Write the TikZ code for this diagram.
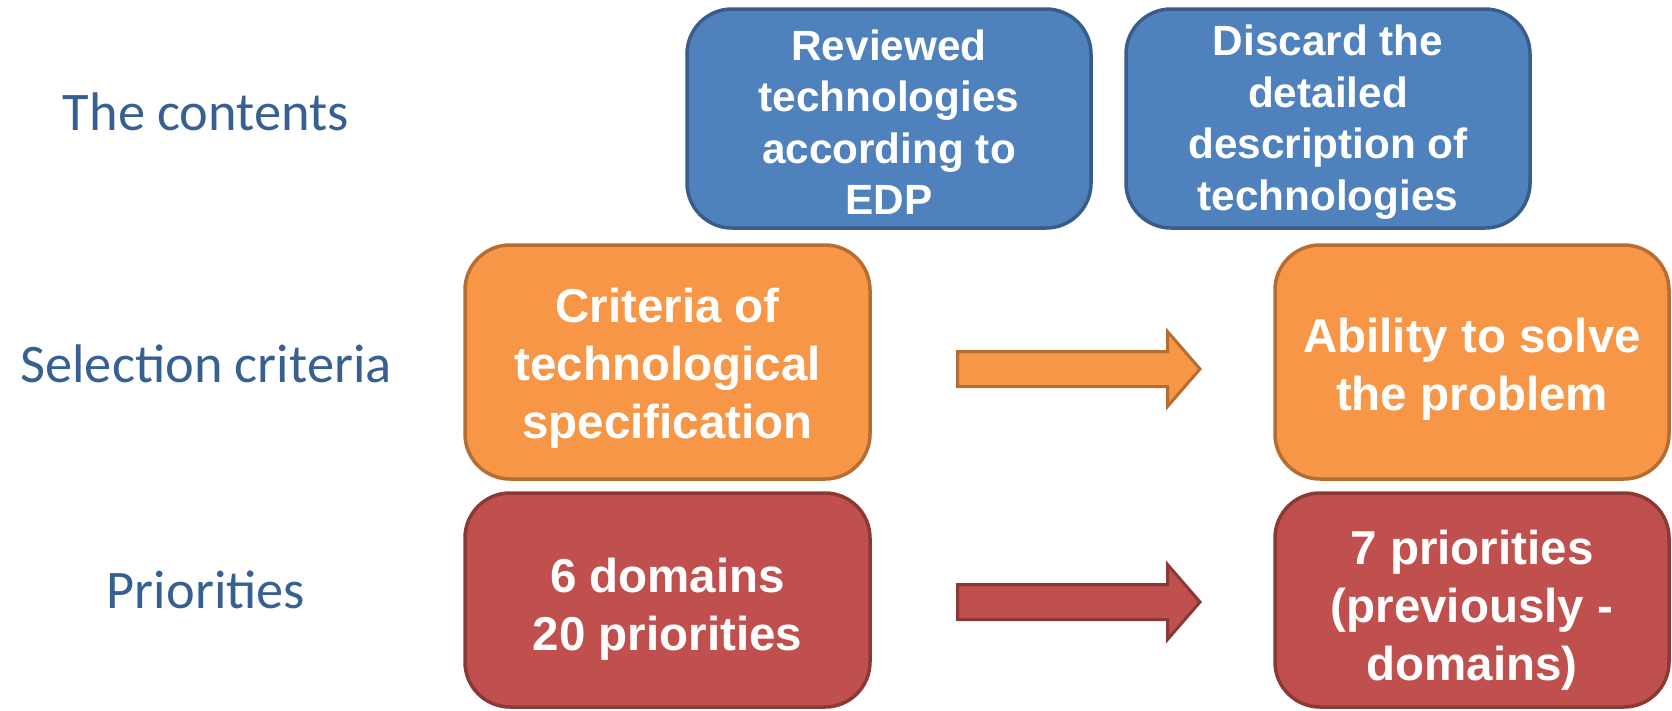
\documentclass[tikz,border=0pt]{standalone}
\usepackage{fontspec}
\setmainfont{Liberation Sans}
\newfontfamily\rowfont{Carlito}
\definecolor{bluefill}{HTML}{4F81BD}
\definecolor{blueline}{HTML}{385D8A}
\definecolor{orangefill}{HTML}{F79646}
\definecolor{orangeline}{HTML}{B66D31}
\definecolor{redfill}{HTML}{C0504D}
\definecolor{redline}{HTML}{8C3836}
\definecolor{rowblue}{HTML}{376092}
\newcommand\dropto[1]{\rule{0pt}{#1}}
\tikzset{
  box/.style={draw, line width=3.5pt, rounded corners=45pt, align=center,
    text=white, inner sep=0pt, font=\bfseries\fontsize{47.5}{58}\selectfont},
  bluebox/.style={box, fill=bluefill, draw=blueline, minimum width=404pt,
    minimum height=219pt, font=\bfseries\fontsize{42.3}{51.6}\selectfont},
  orangebox/.style={box, fill=orangefill, draw=orangeline, minimum height=234pt},
  redbox/.style={box, fill=redfill, draw=redline, minimum height=214pt},
  rowlabel/.style={text=rowblue, anchor=base, font=\rowfont\fontsize{54.4}{65}\selectfont},
  blockarrow/.style={line width=3pt, line join=miter}
}
\begin{document}
\begin{tikzpicture}[x=1pt,y=-1pt]
  \useasboundingbox (0,0) rectangle (1672,710);
  \node[rowlabel] (contents) at (206,130) {The contents};
  \node[rowlabel] (selection) at (206,382) {Selection criteria};
  \node[rowlabel] (priorities) at (206,608) {Priorities};

  \node[bluebox] (reviewed) at (889,118.5)
    {\dropto{38pt}Reviewed\\technologies\\according to\\EDP};
  \node[bluebox] (discard) at (1328,118.5)
    {\dropto{38pt}Discard the\\detailed\\description of\\technologies};

  \node[orangebox, minimum width=405pt] (criteria) at (667.5,362)
    {\dropto{46pt}Criteria of\\technological\\specification};
  \node[orangebox, minimum width=394pt] (ability) at (1472,362)
    {\dropto{49pt}Ability to solve\\the problem};

  \node[redbox, minimum width=405pt] (domains) at (667.5,600)
    {\dropto{52pt}6 domains\\20 priorities};
  \node[redbox, minimum width=394pt] (sevenprio) at (1472,600)
    {\dropto{54pt}7 priorities\\(previously -\\domains)};

  \coordinate (critarrow) at (957.5,369);
  \coordinate (prioarrow) at (957.5,602);
  \draw[blockarrow, fill=orangefill, draw=orangeline] (critarrow)
    ++(0,-17.5) -- ++(210,0) -- ++(0,-20) -- ++(32.5,37.5) -- ++(-32.5,37.5)
    -- ++(0,-20) -- ++(-210,0) -- cycle;
  \draw[blockarrow, fill=redfill, draw=redline] (prioarrow)
    ++(0,-17.5) -- ++(210,0) -- ++(0,-20) -- ++(32.5,37.5) -- ++(-32.5,37.5)
    -- ++(0,-20) -- ++(-210,0) -- cycle;
\end{tikzpicture}
\end{document}
